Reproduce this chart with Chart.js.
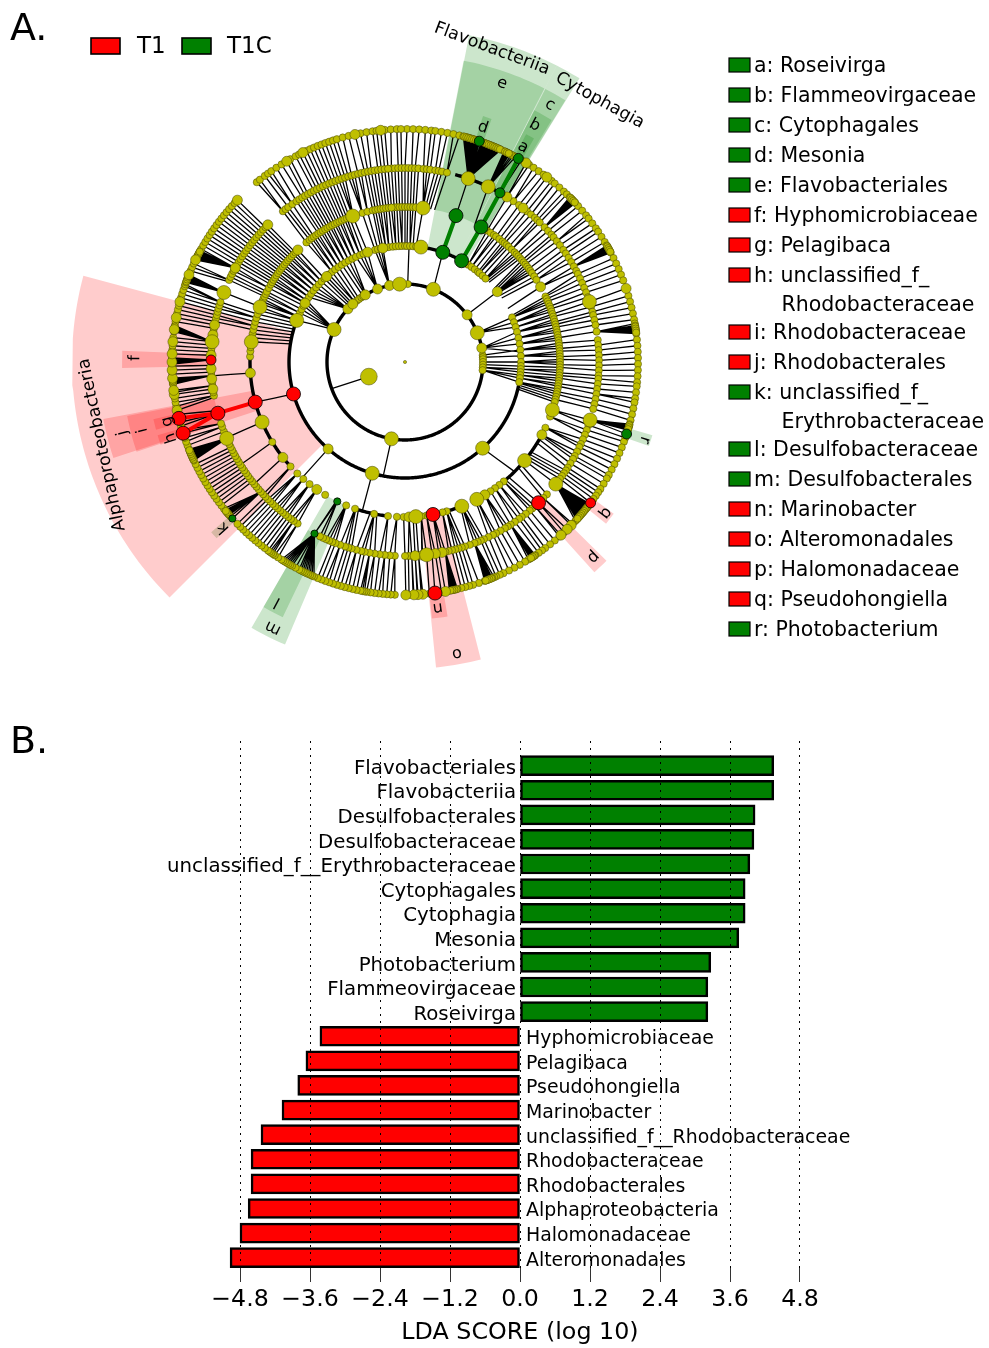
<!DOCTYPE html>
<html>
<head>
<meta charset="utf-8">
<title>LEfSe cladogram and LDA score</title>
<script src="https://cdn.jsdelivr.net/npm/chart.js@4"></script>
<style>
    html, body { margin: 0; padding: 0; background: #fff; }
    #page { position: relative; width: 989px; height: 1348px; overflow: hidden; }
    canvas { position: absolute; left: 0; filter: blur(0.45px); }
    #clado { top: 0; }
    #lda { top: 700px; }
</style>
</head>
<body>
<div id="page">
    <canvas id="clado" width="989" height="700"></canvas>
    <canvas id="lda" width="989" height="648"></canvas>
</div>
<script>
// ---- panel B values ----
var ldaNames = ['Flavobacteriales', 'Flavobacteriia', 'Desulfobacterales', 'Desulfobacteraceae',
    'unclassified_f__Erythrobacteraceae', 'Cytophagales', 'Cytophagia', 'Mesonia', 'Photobacterium',
    'Flammeovirgaceae', 'Roseivirga', 'Hyphomicrobiaceae', 'Pelagibaca', 'Pseudohongiella', 'Marinobacter',
    'unclassified_f__Rhodobacteraceae', 'Rhodobacteraceae', 'Rhodobacterales', 'Alphaproteobacteria',
    'Halomonadaceae', 'Alteromonadales'];
var ldaScores = [4.35, 4.35, 4.03, 4.01, 3.94, 3.86, 3.86, 3.75, 3.27, 3.22, 3.22,
    -3.43, -3.67, -3.81, -4.08, -4.44, -4.61, -4.61, -4.66, -4.80, -4.97];
var ldaTicks = [-4.8, -3.6, -2.4, -1.2, 0, 1.2, 2.4, 3.6, 4.8];

// ---- panel A legend ----
var groupNames = ['T1', 'T1C'];
var legendNames = ['a: Roseivirga', 'b: Flammeovirgaceae', 'c: Cytophagales', 'd: Mesonia', 'e: Flavobacteriales',
    'f: Hyphomicrobiaceae', 'g: Pelagibaca', 'h: unclassified_f_', 'i: Rhodobacteraceae', 'j: Rhodobacterales',
    'k: unclassified_f_', 'l: Desulfobacteraceae', 'm: Desulfobacterales', 'n: Marinobacter', 'o: Alteromonadales',
    'p: Halomonadaceae', 'q: Pseudohongiella', 'r: Photobacterium'];
var legendGroups = [1, 1, 1, 1, 1, 0, 0, 0, 0, 0, 1, 1, 1, 0, 0, 0, 0, 1];
var legendWraps = { 7: 'Rhodobacteraceae', 10: 'Erythrobacteraceae' };

// ---- cladogram: ring radii, then node angles per ring (degrees clockwise from the top) ----
var ringRadii = [39, 78, 116, 155, 194, 233];

var ring5Small = [0.5, 2, 3.5, 5, 6.5, 7.5, 9, 10.5, 12, 13.5, 14.5, 15, 15.5, 16, 16.5, 17, 17.5, 18, 19.2, 19.8, 20.3, 20.8, 21.3, 21.8,
    22.3, 22.8, 23.3, 23.8, 24.3, 25.2, 25.7, 26.2, 26.7, 27.2, 27.7, 28.3, 30, 32.2, 33.5, 35, 36.5, 39, 40, 41.5, 43, 44, 45, 45.5, 46, 46.5,
    47, 48, 49.5, 51, 52, 53.5, 55, 56, 57.5, 59, 60, 60.5, 61, 61.5, 62, 63.5, 65, 66.5, 68, 69.5, 73.5, 75, 76.5, 78, 79.5, 80.5,
    81, 81.5, 82, 82.5, 83, 84.5, 86, 87.5, 89, 90.5, 92, 93.5, 95, 96, 97.5, 99, 100, 101.5, 103, 104.5, 105.5, 106, 106.5, 107, 109,
    110, 111.5, 113, 114.5, 116, 117.5, 119, 120, 121.5, 123, 124, 125, 126, 127.8, 128.4, 129, 129.5, 130, 130.5, 131, 131.5, 132,
    132.5, 133, 134, 137, 138.5, 140, 141.5, 143, 144, 145, 146, 146.5, 147, 147.5, 148, 149, 150.5, 152, 153.5, 155, 156, 157,
    157.5, 158, 158.5, 159, 159.5, 160, 161.5, 163, 164, 165, 166, 167, 167.5, 168, 168.5, 169, 170, 171, 174, 176, 177, 178, 179,
    182.5, 183.5, 184.5, 185.5, 186.5, 187.5, 188.5, 189.5, 190, 190.5, 191, 192, 193, 194, 195, 196, 197, 198, 199, 200, 201, 202,
    203, 203.5, 204, 204.5, 205, 205.5, 206, 206.5, 207, 208, 209, 209.5, 210, 210.5, 211, 211.5, 212, 213, 214, 214.5, 215, 215.5,
    216, 217, 218, 219, 220, 221, 222, 223, 224, 225, 226, 228.5, 229, 229.5, 230, 230.5, 231, 232, 233, 234, 235, 236, 237, 238, 239,
    240, 241, 242, 243, 244, 245, 245.5, 246, 246.5, 247, 247.5, 248, 249, 250, 251, 253, 254, 255, 257, 259, 260, 261, 262, 262.5,
    264.5, 265, 265.5, 266, 267, 268, 269, 269.5, 270, 270.5, 271, 273, 274, 275, 276, 277.5, 278, 278.5, 279, 280, 281, 282, 283,
    284, 285, 286, 287, 288, 289, 289.5, 290, 290.5, 291, 291.5, 292, 293, 294, 295, 296, 296.5, 297, 297.5, 298, 298.5, 299, 300,
    301, 302, 303, 304, 305, 306, 307, 308, 309, 310, 311, 312, 313, 320.5, 321.5, 323, 324, 325, 326.5, 328, 330.5, 332, 333, 335,
    336, 337, 338, 339, 340, 341, 342, 343, 344.5, 346, 349, 350.5, 352, 353, 355, 356.5, 358, 359];
// leaves packed into the black fans
var ring5Packed = [14.75, 15.25, 15.75, 16.25, 16.75, 17.25, 17.75, 18.25, 18.75, 19.5, 20.05, 20.55, 21.05, 21.55, 22.05, 22.55, 23.05, 23.55, 24.05,
    25.45, 25.95, 26.45, 45.25, 45.75, 46.25, 46.75, 60.25, 60.75, 61.25, 61.75, 81.25, 81.75, 82.25, 82.75, 105.75, 106.25, 106.75,
    127.5, 128.1, 128.7, 129.25, 129.75, 130.25, 130.75, 131.25, 131.75, 132.25, 146.25, 146.75, 147.25, 158.25, 158.75, 159.25, 159.75,
    167.25, 167.75, 168.25, 168.75, 229.25, 229.75, 230.25, 245.25, 245.75, 246.25, 246.75, 247.25, 247.75,
    264.75, 265.25, 265.75, 269.75, 270.25, 270.75, 277.75, 278.25, 278.75, 290.25, 290.75, 291.25, 291.75, 296.25, 296.75, 297.25, 297.75, 298.25];
var ring5Medium = [31.3, 37.5, 71.6, 134.5, 135.9, 138, 170, 175.6, 176.8, 177.8, 179.8, 258, 262, 263, 266, 268, 270, 272, 275, 278, 281, 285, 292, 296, 314, 329.5, 334, 347.6, 354];

var ring4Small = [356, 357, 358, 359, 0, 1, 2, 3, 4, 5.5, 6.5, 7.5, 9, 10, 11, 12.5, 34, 36, 39, 40.5, 42, 43, 44, 46, 47.5, 49, 50, 51.5,
    53, 54.7, 56, 57.5, 59, 60.5, 62, 63, 64.5, 66, 67.5, 69, 70.5, 73.5, 75, 76, 77.5, 79, 81, 83.5, 85, 86.5, 88, 89.5, 91, 92.5, 94, 95,
    96.5, 98, 99.5, 101, 102.5, 104, 109, 110.5, 112, 113.5, 115, 116, 117.5, 119, 120, 121.5, 123, 124, 125, 126, 127, 133, 134.5,
    138, 139, 140, 141.5, 143, 144, 145.5, 147, 148, 149, 150.5, 152, 153, 154.5, 156, 157, 158, 159, 160.5, 162, 163, 164, 165, 166,
    167, 168, 170, 172, 175, 176, 178, 179, 180, 183, 184.5, 186, 187.5, 189, 190.5, 192, 193, 194.5, 196, 197, 198,
    199.5, 201, 202, 203, 204, 205, 206, 213.6, 215, 216, 217, 218, 219, 220, 221, 222, 223, 224, 225, 226, 227, 228, 229, 230, 231, 232, 233, 234, 235, 236, 237, 238, 239, 240, 241, 242, 243, 244, 245,
    248, 249, 250.5, 251.5, 260, 261, 263, 264, 266, 267, 269, 273, 274, 275, 277.5, 279, 280, 282, 283, 284, 285, 286, 287, 288, 295, 296, 297, 298, 300, 301, 302, 303,
    304, 305, 306, 307, 308, 309, 310, 311, 312, 313, 314, 321, 322, 323, 324.5, 326, 327, 328, 329, 330, 331, 332, 333, 334, 335, 336,
    337, 338, 339, 340, 341, 342, 343, 344, 345, 346, 347, 348, 349, 350, 351, 352, 353, 354, 355];
var ring4Medium = [31.7, 37.5, 169, 171, 174.8, 177, 262, 265, 268, 272, 278, 281, 299, 315];
var ring4Large = [19, 25.4, 71.9, 107.4, 129, 173.6, 246.8, 276, 291];

var ring3Small = [356, 357, 358, 359, 0, 1, 2, 3, 4, 32, 33.5, 35, 36, 37.5, 39, 40, 41, 42, 43.5, 45, 46, 47, 48, 49, 50, 51, 52, 53, 54, 55, 56.5, 58,
    65, 66, 67, 68, 69, 70, 71, 72, 73, 74, 75, 76, 77, 78, 79, 80, 81, 82, 83, 84, 85, 86, 87, 88, 89, 90, 91, 92, 93, 94, 95, 96, 97, 98,
    99, 100, 101, 102, 103, 104, 105, 110.6, 115.1, 140.4, 142.5, 144.5, 146.5, 164.4, 166, 172, 174, 177, 180.5, 183, 186.3, 191.5,
    198.8, 202.3, 211, 218, 221, 224, 227.6, 238.9, 272, 274, 275.5, 279, 280.5, 282, 283.5, 285, 286.5, 288, 289.5, 292, 293, 294, 295,
    296, 297, 298.5, 300, 301, 302, 303, 304, 305, 306, 307, 308, 309, 310, 311, 312, 313, 314, 315, 320.5, 322, 323, 324, 325, 326, 327,
    328, 329, 330, 331, 332, 333, 334, 335, 336, 337, 338, 339, 344, 346, 348, 349, 350, 351, 352, 353, 354, 355];
var ring3Medium = [61, 118, 149, 178.5, 214.7, 232, 265.9, 316.3];
var ring3Large = [6.7, 108, 129.5, 152.4, 158.5, 176, 247.2, 277.5, 290.8, 340.3];

var ring2Small = [293, 295, 297, 299, 302, 304, 306, 308, 310, 312, 314, 316, 319, 321, 323, 325, 327, 329, 331, 333, 335, 337.2, 339, 345, 346.5, 348,
    350.5, 352, 354, 355.5, 357, 358.5, 0, 1, 2.5, 4, 5.5, 33, 35, 37, 39, 40, 42, 44, 67.4, 70, 72.5, 75, 78, 81, 84, 87, 90, 92, 93.5, 95, 96.5, 98, 100];
var ring2Medium = [52.7, 221.5, 300.5, 317.5, 341.2, 349];
var ring2Large = [7.9, 138, 196.4, 291];

var ring1Small = [2, 315, 316.5, 320, 322, 324, 326, 327.5, 330, 85, 86.5, 88, 90, 92, 94, 96];
var ring1Medium = [52.8, 79.7, 312.9, 318, 329.4, 339.4, 348.5];
var ring1Large = [21.3, 68, 190, 294.6, 356];

var ring0Large = [248];

// coloured clades: ring index, angle, size class (0 small, 1 medium, 2 large)
var t1Rings = [2, 3, 3, 4, 4, 4, 5, 5, 5, 5];
var t1Angles = [254, 255, 169.6, 254.7, 270.6, 136.5, 256, 252.2, 127.2, 172.6];
var t1Sizes = [2, 2, 2, 2, 1, 2, 2, 2, 1, 2];
var t1cRings = [2, 2, 3, 3, 4, 4, 3, 5, 5, 5, 5];
var t1cAngles = [19, 29.2, 19.2, 29.4, 29.3, 207.8, 205.9, 18.6, 29.1, 227.8, 108];
var t1cSizes = [2, 2, 2, 2, 1, 0, 0, 1, 1, 0, 1];

// branches that are not simply node to parent: ring, angle, ring, angle
var extraBranches = [[0, 248, 1, 250], [1, 190, 2, 190.8], [1, 294.6, 2, 291], [1, 21.3, 2, 19], [1, 52.8, 2, 52.7], [1, 79.7, 2, 85], [1, 2, 2, 2],
    [1, 348.5, 2, 349], [2, 138, 3, 135], [2, 196.4, 3, 196], [2, 221.5, 3, 221.6], [2, 254, 3, 255], [2, 52.7, 3, 55], [3, 265.9, 4, 265.9],
    [3, 247.2, 4, 247], [3, 238.9, 4, 238], [3, 232, 4, 231], [3, 254.7, 4, 254.7], [3, 129.5, 4, 129], [3, 19.2, 4, 19], [3, 205.9, 4, 207.8]];
var t1Branches = [[3, 255, 4, 254.7], [4, 254.7, 5, 256], [4, 254.7, 5, 252.2]];
var t1cBranches = [[2, 19, 3, 19.2], [2, 29.2, 3, 29.4], [3, 29.4, 4, 29.3], [4, 29.3, 5, 29.1]];

// black fans of the outer ring: from leaf angle, to leaf angle, parent angle
var fanFrom = [14.5, 25, 45, 60, 80.5, 105.5, 127.5, 146, 157.5, 167, 203, 229, 245, 264.5, 269.5, 277.5, 290, 296];
var fanTo = [24.4, 28.4, 47, 62, 83, 107, 133, 148, 160, 169, 212, 231, 248, 266, 271, 279, 292, 298.5];
var fanParent = [19, 25.4, 46, 60.5, 81, 107.4, 129, 147, 159, 168, 207.8, 228, 246.8, 266, 270.6, 276, 291, 299];

// ring, from angle, to angle of the heavy arcs
var heavyArcs = [[1, 0, 360], [2, 7.9, 29.2], [2, 100, 291], [3, 118, 150], [3, 158, 165], [3, 186, 199], [3, 228, 277], [4, 15, 30]];
// angle windows where children do not get their own branch to the parent ring
var sparseWindows = { 2: [[8, 64], [101, 293], [350, 360], [0, 8]], 3: [[106, 276]], 4: [[228, 281]] };

// shaded sectors: inner radius, outer radius, from angle, to angle, group
var sectorInner = [116, 116, 116, 155, 194, 194, 233, 233, 233, 155, 155, 194, 233, 233, 155, 194, 233, 233, 155, 194, 233];
var sectorOuter = [333, 333, 333, 307, 283, 283, 258, 258, 258, 307, 307, 283, 258, 258, 307, 283, 258, 258, 307, 283, 258];
var sectorFrom = [225, 11.1, 27.1, 251.8, 251.5, 268.8, 254.8, 251.3, 226.9, 11, 27.2, 27.2, 28, 17.6, 203, 205.6, 106.5, 170.5, 165.7, 134.6, 126];
var sectorTo = [285, 27.1, 31.6, 259.3, 259, 272.3, 257.2, 253.5, 228.7, 27, 31.5, 31.2, 30, 19.6, 210, 210, 109, 174, 174.2, 138, 128.8];
var sectorGroup = [0, 1, 1, 0, 0, 0, 0, 0, 1, 1, 1, 1, 1, 1, 1, 1, 1, 0, 0, 0, 0];

// clade labels on the cladogram: text, radius, angle, and angle the text is turned to
var cladeText = ['Alphaproteobacteria', 'Flavobacteriia', 'Cytophagia', 'a', 'b', 'c', 'd', 'e', 'f', 'g', 'h', 'i', 'j', 'k', 'l', 'm', 'n', 'o', 'p', 'q', 'r'];
var cladeRadius = [314, 325, 326, 245, 270, 295, 247, 295, 270, 245, 246, 271, 291, 246, 272, 297, 248, 296, 271, 251, 252];
var cladeAngle = [254.7, 15.5, 36.7, 28.8, 28.7, 29.4, 18.4, 19.2, 270.8, 255.9, 252, 255.4, 255.9, 227.6, 208, 206.4, 172.4, 169.9, 136, 127, 108];
var cladeTurn = [258, 20.5, 29, 28.8, 28.7, 29.4, 18.4, 19.2, 270.8, 255.9, 252, 255.4, 255.9, 227.6, 208, 206.4, 172.4, 169.9, 136, 127, 108];

// ---- helpers ----
var RED = '#ff0000';
var GREEN = '#008000';
var YELLOW = '#bfbf00';
var FONT = '"DejaVu Sans"';
var nodeRadius = [3.6, 5, 7];
var MAX_LEAN = 1.5;

Chart.defaults.font.family = FONT;
Chart.defaults.color = '#000';

function polar(r, angle) {
    var a = angle * Math.PI / 180;
    return { x: r * Math.sin(a), y: r * Math.cos(a) };
}

function arcPoints(r, from, to) {
    var pts = [];
    for (var a = from; a < to; a += 1) {
        pts.push(polar(r, a));
    }
    pts.push(polar(r, to));
    return pts;
}

function signedGap(a, b) {
    return ((b - a + 540) % 360) - 180;
}

function inWindows(angle, windows) {
    if (!windows) return false;
    return windows.some(function (w) { return angle >= w[0] && angle <= w[1]; });
}

// all angles on one ring, coloured clades included
var ringLists = [
    [[], [], ring0Large],
    [ring1Small, ring1Medium, ring1Large],
    [ring2Small, ring2Medium, ring2Large],
    [ring3Small, ring3Medium, ring3Large],
    [ring4Small, ring4Medium, ring4Large],
    [ring5Small.concat(ring5Packed), ring5Medium, []]
];

function ringAngles(ring) {
    var list = ringLists[ring][0].concat(ringLists[ring][1], ringLists[ring][2]);
    t1Rings.forEach(function (r, i) { if (r == ring) list.push(t1Angles[i]); });
    t1cRings.forEach(function (r, i) { if (r == ring) list.push(t1cAngles[i]); });
    return list;
}

function closest(list, angle) {
    var best = list[0];
    list.forEach(function (a) {
        if (Math.abs(signedGap(angle, a)) < Math.abs(signedGap(angle, best))) best = a;
    });
    return best;
}

// where on the parent ring the branch of a child ends
function branchEnd(ring, parents, a) {
    if (ring == 5) {
        for (var i = 0; i < fanFrom.length; i++) {
            if (a >= fanFrom[i] && a <= fanTo[i]) return fanParent[i];
        }
    }
    var near = closest(parents, a);
    if (ring == 2) return near;
    var gap = signedGap(a, near);
    if (Math.abs(gap) <= MAX_LEAN) return near;
    return a + (gap > 0 ? MAX_LEAN : -MAX_LEAN);
}

function branchLine(list) {
    var pts = [];
    list.forEach(function (b) {
        pts.push(polar(ringRadii[b[0]], b[1]));
        pts.push(polar(ringRadii[b[2]], b[3]));
        pts.push({ x: NaN, y: NaN });
    });
    return pts;
}

// ---- cladogram datasets ----
var cladoSets = [];

// a very small tension keeps the line element off its x-sorted fast path
function lineSet(data, color, width, order) {
    return { type: 'line', data: data, borderColor: color, borderWidth: width, pointRadius: 0, fill: false, tension: 0.001, order: order, spanGaps: false };
}

sectorInner.forEach(function (inner, i) {
    var pts = arcPoints(inner, sectorFrom[i], sectorTo[i]).concat(arcPoints(sectorOuter[i], sectorFrom[i], sectorTo[i]).reverse());
    pts.push(pts[0]);
    cladoSets.push({
        type: 'line', data: pts, borderWidth: 0, pointRadius: 0, tension: 0, order: 20 + i,
        fill: 'shape', backgroundColor: sectorGroup[i] == 0 ? 'rgba(255,0,0,0.2)' : 'rgba(0,128,0,0.2)'
    });
});

var links = [];
for (var ring = 2; ring <= 5; ring++) {
    var parents = ringAngles(ring - 1);
    ringAngles(ring).forEach(function (a) {
        if (!inWindows(a, sparseWindows[ring])) {
            links.push([ring - 1, branchEnd(ring, parents, a), ring, a]);
        }
    });
}
cladoSets.push(lineSet(branchLine(links.concat(extraBranches)), '#000', 1.3, 10));

heavyArcs.forEach(function (arc) {
    cladoSets.push(lineSet(arcPoints(ringRadii[arc[0]], arc[1], arc[2]), '#000', 3.4, 9));
});

cladoSets.push(lineSet(branchLine(t1Branches), RED, 4, 8));
cladoSets.push(lineSet(branchLine(t1cBranches), GREEN, 4.2, 8));

function nodeSet(color, rings, angles, sizes, order) {
    var pts = [], radii = [];
    rings.forEach(function (r, i) {
        pts.push(polar(ringRadii[r], angles[i]));
        radii.push(nodeRadius[sizes[i]] * (r == 0 ? 1.2 : 1));
    });
    return {
        type: 'scatter', data: pts, pointRadius: radii, pointBackgroundColor: color,
        pointBorderColor: '#000', pointBorderWidth: 0.8, showLine: false, order: order
    };
}

var yellowRings = [], yellowAngles = [], yellowSizes = [];
[0, 1, 2].forEach(function (size) {
    ringLists.forEach(function (lists, r) {
        lists[size].forEach(function (a) {
            yellowRings.push(r);
            yellowAngles.push(a);
            yellowSizes.push(size);
        });
    });
});
var yellowSet = nodeSet(YELLOW, yellowRings, yellowAngles, yellowSizes, 3);
yellowSet.pointBorderColor = 'rgba(60,60,0,0.8)';
yellowSet.pointBorderWidth = 0.6;
// the point in the middle of the tree
yellowSet.data.push({ x: 0, y: 0 });
yellowSet.pointRadius.push(1.6);
cladoSets.push(yellowSet);
cladoSets.push(nodeSet(RED, t1Rings, t1Angles, t1Sizes, 1));
cladoSets.push(nodeSet(GREEN, t1cRings, t1cAngles, t1cSizes, 1));

var cladoLabels = {
    id: 'cladoLabels',
    afterDatasetsDraw: function (chart) {
        var ctx = chart.ctx, sx = chart.scales.x, sy = chart.scales.y;
        ctx.save();
        ctx.fillStyle = '#000';
        ctx.textAlign = 'center';
        ctx.textBaseline = 'middle';
        cladeText.forEach(function (t, i) {
            var p = polar(cladeRadius[i], cladeAngle[i]);
            ctx.save();
            ctx.translate(sx.getPixelForValue(p.x), sy.getPixelForValue(p.y));
            ctx.rotate(cladeTurn[i] * Math.PI / 180);
            ctx.font = (t.length > 1 ? 17.3 : 16) + 'px ' + FONT;
            ctx.fillText(t, 0, 0);
            ctx.restore();
        });

        // panel letter and group legend
        ctx.textAlign = 'left';
        ctx.font = '38px ' + FONT;
        ctx.fillText('A.', 10, 30);
        ctx.font = '23px ' + FONT;
        [RED, GREEN].forEach(function (c, i) {
            var x = i == 0 ? 91 : 182;
            ctx.fillStyle = c;
            ctx.fillRect(x, 38, 29, 16);
            ctx.strokeStyle = '#000';
            ctx.lineWidth = 1.6;
            ctx.strokeRect(x, 38, 29, 16);
            ctx.fillStyle = '#000';
            ctx.fillText(groupNames[i], i == 0 ? 137 : 227, 47);
        });

        // clade legend
        ctx.font = '20.5px ' + FONT;
        var y = 65;
        legendNames.forEach(function (name, i) {
            ctx.fillStyle = legendGroups[i] == 0 ? RED : GREEN;
            ctx.fillRect(729, y - 7, 21, 14);
            ctx.strokeStyle = '#000';
            ctx.lineWidth = 1.2;
            ctx.strokeRect(729, y - 7, 21, 14);
            ctx.fillStyle = '#000';
            ctx.fillText(name, 754, y + 2);
            if (legendWraps[i]) {
                ctx.fillText(legendWraps[i], 781.5, y + 31);
                y += 57;
            } else {
                y += 30;
            }
        });
        ctx.restore();
    }
};

new Chart(document.getElementById('clado'), {
    type: 'scatter',
    data: { datasets: cladoSets },
    options: {
        responsive: false,
        animation: false,
        events: [],
        layout: { padding: 0, autoPadding: false },
        plugins: { legend: { display: false }, tooltip: { enabled: false } },
        scales: {
            x: { type: 'linear', display: false, min: -405, max: 584 },
            y: { type: 'linear', display: false, min: -338, max: 362 }
        }
    },
    plugins: [cladoLabels]
});

// ---- LDA bars ----
var ldaLabels = {
    id: 'ldaLabels',
    afterDraw: function (chart) {
        var ctx = chart.ctx, sx = chart.scales.x, sy = chart.scales.y;
        ctx.save();
        ctx.fillStyle = '#000';
        ctx.textBaseline = 'middle';
        ldaNames.forEach(function (name, i) {
            ctx.textAlign = ldaScores[i] > 0 ? 'right' : 'left';
            ctx.font = (ldaScores[i] > 0 ? 19.8 : 18.9) + 'px ' + FONT;
            ctx.fillText(name, sx.getPixelForValue(0) + (ldaScores[i] > 0 ? -4 : 6), sy.getPixelForValue(i) + 3);
        });
        ctx.textAlign = 'left';
        ctx.font = '38px ' + FONT;
        ctx.fillText('B.', 10, 43);
        ctx.restore();
    }
};

new Chart(document.getElementById('lda'), {
    type: 'bar',
    data: {
        datasets: [{
            data: ldaScores.map(function (v, i) { return { x: v, y: i }; }),
            backgroundColor: ldaScores.map(function (v) { return v > 0 ? GREEN : RED; }),
            borderColor: '#000',
            borderWidth: 2.5,
            borderSkipped: false,
            barThickness: 20
        }]
    },
    options: {
        indexAxis: 'y',
        responsive: false,
        animation: false,
        events: [],
        layout: { padding: { left: 222.5, right: 171.5, top: 41, bottom: 1 }, autoPadding: false },
        plugins: { legend: { display: false }, tooltip: { enabled: false } },
        scales: {
            y: { type: 'linear', display: false, reverse: true, offset: false, min: -1, max: 20.42 },
            x: {
                type: 'linear',
                min: -5.1,
                max: 5.1,
                afterBuildTicks: function (axis) {
                    axis.ticks = ldaTicks.map(function (v) { return { value: v }; });
                },
                grid: {
                    color: '#000', lineWidth: 1, z: 1, drawTicks: true, tickLength: 14,
                    tickColor: '#333', tickWidth: 1
                },
                border: { display: false, dash: [2, 5] },
                ticks: {
                    autoSkip: false,
                    maxRotation: 0,
                    padding: 4,
                    font: { size: 23.7 },
                    color: '#000',
                    callback: function (v) {
                        return (v < 0 ? '\u2212' : '') + Math.abs(v).toFixed(1);
                    }
                },
                title: { display: true, text: 'LDA SCORE (log 10)', font: { size: 23.8 }, color: '#000', padding: { top: 0, bottom: 0 } }
            }
        }
    },
    plugins: [ldaLabels]
});
</script>
</body>
</html>
